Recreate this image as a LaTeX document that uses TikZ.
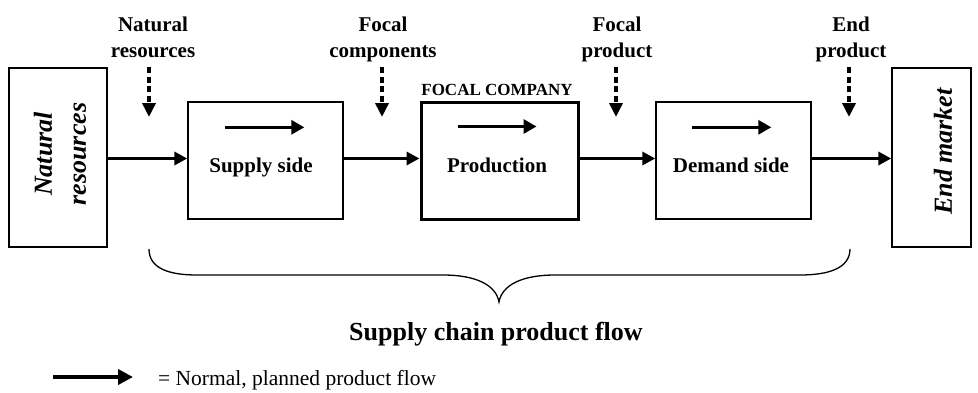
\documentclass[tikz,border=0pt]{standalone}
\usepackage{fontspec}
\setmainfont{Liberation Serif}
\usetikzlibrary{arrows.meta,calc}
\begin{document}
\begin{tikzpicture}[x=1pt,y=-1pt,
  box/.style={draw, line width=1.4pt, inner sep=0pt},
  boxtext/.style={font=\fontsize{21}{26}\selectfont\bfseries, inner sep=0pt, anchor=base},
  toplab/.style={font=\fontsize{21}{26}\selectfont\bfseries, align=center, inner sep=0pt, anchor=north},
  sidelab/.style={font=\fontsize{26}{34}\selectfont\bfseries\itshape, align=center, inner sep=0pt, rotate=90},
  flow/.style={line width=3.3pt, -{Triangle[length=13pt,width=13pt]}},
  inflow/.style={line width=3pt, -{Triangle[length=13pt,width=14pt]}},
  legflow/.style={line width=3.8pt, -{Triangle[length=15pt,width=15pt]}},
  dasharrow/.style={line width=3.5pt, dash pattern=on 6pt off 3.5pt, -{Triangle[length=14pt,width=13pt]}},
  brace/.style={line width=1.3pt},
]
\useasboundingbox (0,0) rectangle (978,392);

% boxes
\node[box, minimum width=98pt, minimum height=179pt] (nr) at (58,157.5) {};
\node[box, minimum width=155pt, minimum height=117pt] (ss) at (265.5,160.5) {};
\node[box, line width=3pt, minimum width=157pt, minimum height=117pt] (pr) at (499.5,160.5) {};
\node[box, minimum width=155pt, minimum height=117pt] (ds) at (733.5,160.5) {};
\node[box, minimum width=79pt, minimum height=179pt] (em) at (931.5,157.5) {};

% box texts
\node[sidelab] (nrt) at (60,154) {Natural\\resources};
\node[sidelab] (emt) at (943,151.5) {End market};
\node[boxtext] (sst) at (261,172.5) {Supply side};
\node[boxtext] (prt) at (497,172.5) {Production};
\node[boxtext] (dst) at (731,172.5) {Demand side};
\node[font=\fontsize{17}{20}\selectfont\bfseries, inner sep=0pt, anchor=base] (fc) at (497,95) {FOCAL COMPANY};

% inner arrows
\draw[inflow] ($(ss.north west)+(38,26)$) -- ++(79,0);
\draw[inflow] ($(pr.north west)+(38,26)$) -- ++(79,0);
\draw[inflow] ($(ds.north west)+(37,26)$) -- ++(79,0);

% main flow arrows
\draw[flow] ([yshift=2pt]ss.west -| nr.east) -- ([yshift=2pt]ss.west);
\draw[flow] ([yshift=2pt]ss.east) -- ([yshift=2pt]pr.west);
\draw[flow] ([yshift=2pt]pr.east) -- ([yshift=2pt]ds.west);
\draw[flow] ([yshift=2pt]ds.east) -- ([yshift=2pt]ds.east -| em.west);

% top labels
\node[toplab] (l1) at (153,16.5) {Natural\\resources};
\node[toplab] (l2) at (383,16.5) {Focal\\components};
\node[toplab] (l3) at (617,16.5) {Focal\\product};
\node[toplab] (l4) at (851,16.5) {End\\product};

% dashed arrows
\coordinate (d1s) at (149,67);  \coordinate (d1e) at (149,117);
\coordinate (d2s) at (382,67);  \coordinate (d2e) at (382,117);
\coordinate (d3s) at (616,67);  \coordinate (d3e) at (616,117);
\coordinate (d4s) at (849,67);  \coordinate (d4e) at (849,117);
\draw[dasharrow] (d1s) -- (d1e);
\draw[dasharrow] (d2s) -- (d2e);
\draw[dasharrow] (d3s) -- (d3e);
\draw[dasharrow] (d4s) -- (d4e);

% brace
\coordinate (bl) at (149,249);
\coordinate (bt) at (499,302);
\coordinate (br) at (850,249);
\draw[brace] (bl) .. controls (149,268) and (168,275) .. (197,275)
  -- (443,275) .. controls (476,275) and (496,285) .. (bt)
  .. controls (502,285) and (522,275) .. (555,275)
  -- (800,275) .. controls (829,275) and (850,268) .. (br);
\node[font=\fontsize{26}{30}\selectfont\bfseries, inner sep=0pt, anchor=base] (title) at (496,340) {Supply chain product flow};

% legend
\coordinate (legS) at (53,377);
\node[font=\fontsize{21.5}{26}\selectfont, inner sep=0pt, anchor=base west] (legt) at (158,385) {= Normal, planned product flow};
\draw[legflow] (legS) -- ++(80,0);
\end{tikzpicture}
\end{document}
